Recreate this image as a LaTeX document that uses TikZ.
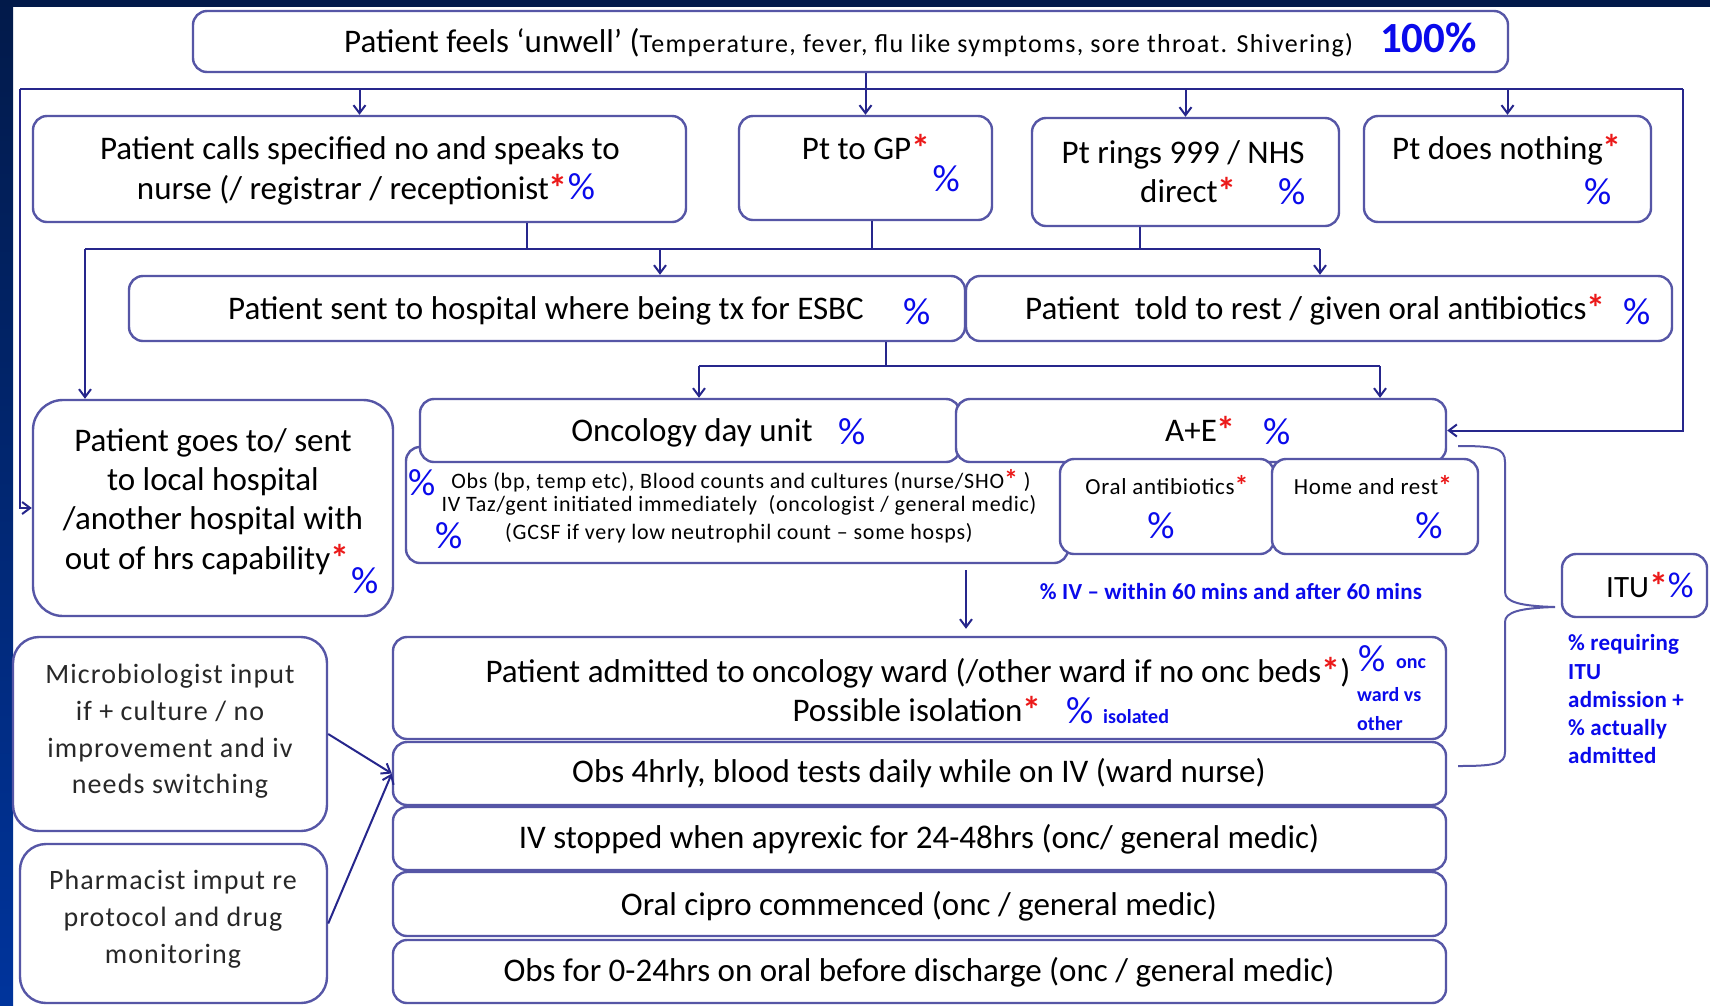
\documentclass[tikz,border=0pt]{standalone}
\usepackage{fontspec}
\setmainfont{Carlito}
\usetikzlibrary{arrows.meta,fit}
\definecolor{boxc}{RGB}{86,86,166}
\definecolor{linec}{RGB}{38,38,140}
\definecolor{pctc}{RGB}{10,10,235}
\definecolor{astc}{RGB}{235,25,25}
\definecolor{navyc}{RGB}{2,26,74}
\definecolor{bandc}{RGB}{0,52,156}
\definecolor{greyc}{RGB}{40,40,40}
\newcommand{\fsz}[2]{\fontsize{#1pt}{#2pt}\selectfont}
\newcommand{\Ast}{{\fsz{38}{38}\bfseries\color{astc}\raisebox{-2pt}{*}}}
\newcommand{\SAst}{{\fsz{28}{28}\bfseries\color{astc}\raisebox{-1pt}{*}}}
\newcommand{\PctL}{{\fsz{38}{40}\color{pctc}\%}}
\begin{document}
\begin{tikzpicture}[x=1pt,y=-1pt,
  box/.style={draw=boxc, line width=2.4pt, rounded corners=14pt, fill=white, inner sep=0pt},
  conn/.style={draw=linec, line width=2pt},
  arr/.style={conn, -{Straight Barb[length=8pt,width=12pt]}},
  txt/.style={anchor=base, inner sep=0pt, font=\fsz{33}{39}, text=black},
  stxt/.style={txt, font=\fsz{22}{25}\addfontfeatures{LetterSpace=3.5}},
  mtxt/.style={txt, font=\fsz{23}{27}\addfontfeatures{LetterSpace=3}},
  btxt/.style={txt, font=\fsz{20}{24}\bfseries, text=pctc},
  bntxt/.style={txt, font=\fsz{23}{26}\bfseries\addfontfeatures{LetterSpace=1}, text=pctc},
  gtxt/.style={txt, font=\fsz{28}{34}\addfontfeatures{LetterSpace=4}, text=greyc}]
\useasboundingbox (0,0) rectangle (1710,1005);
% background
\fill[white] (0,0) rectangle (1710,1005);
\shade[top color=navyc, bottom color=bandc] (0,0) rectangle (13,1005);
\fill[navyc] (0,0) rectangle (1710,7);

% boxes
\node[box, fit={(193,11) (1508,72)}] (top) {};
\node[box, fit={(33,116) (686,222)}] (calls) {};
\node[box, fit={(739,116) (992,220)}] (gp) {};
\node[box, fit={(1032,118) (1339,226)}] (nhs) {};
\node[box, fit={(1364,116) (1651,222)}] (nothing) {};
\node[box, fit={(129,276) (965,341)}] (sent) {};
\node[box, fit={(966,276) (1672,341)}] (rest) {};
\node[box, rounded corners=30pt, fit={(33,400) (393,616)}] (goes) {};
\node[box, fit={(406,447) (1068,563)}] (obs) {};
\node[box, fit={(420,399) (960,462)}] (onc) {};
\node[box, fit={(956,399) (1446,462)}] (ae) {};
\node[box, fit={(1060,459) (1274,554)}] (oral) {};
\node[box, fit={(1272,459) (1478,554)}] (home) {};
\node[box, fit={(1562,554) (1707,617)}] (itu) {};
\node[box, fit={(393,637) (1446,739)}] (ward) {};
\node[box, fit={(393,742) (1446,805)}] (obsf) {};
\node[box, fit={(393,807) (1446,870)}] (ivs) {};
\node[box, fit={(393,872) (1446,936)}] (cipro) {};
\node[box, fit={(393,940) (1446,1003)}] (final) {};
\node[box, rounded corners=26pt, fit={(13,637) (327,831)}] (micro) {};
\node[box, rounded corners=26pt, fit={(20,844) (327,1003)}] (pharm) {};

% texts
\node[txt, anchor=base west] (toptxt) at (344,52) {Patient feels ‘unwell’ ({\fsz{26}{30}\addfontfeatures{LetterSpace=5}Temperature, fever, flu like symptoms, sore throat. Shivering)}\hspace{27pt}{\fsz{43}{46}\bfseries\color{pctc}100\%}};

\node[txt] (calls1) at (360,159) {Patient calls specified no and speaks to};
\node[txt] (calls2) at (366,199) {nurse (/ registrar / receptionist\Ast\PctL};

\node[txt] (gp1) at (866,159) {Pt to GP\Ast};
\node[txt, anchor=base east] (gp2) at (960,191) {\PctL};

\node[txt] (nhs1) at (1183,163) {Pt rings 999 / NHS};
\node[txt, anchor=base west] (nhs2) at (1140,202) {direct\Ast};
\node[txt, anchor=base west] (nhs3) at (1278,204) {\PctL};

\node[txt] (no1) at (1507,159) {Pt does nothing\Ast};
\node[txt, anchor=base west] (no2) at (1584,204) {\PctL};

\node[txt] (sent1) at (546,319) {Patient sent to hospital where being tx for ESBC};
\node[txt, anchor=base west] (sent2) at (903,324) {\PctL};

\node[txt, anchor=base west] (rest1) at (1025,319) {Patient\ \ told to rest / given oral antibiotics\Ast};
\node[txt, anchor=base west] (rest2) at (1623,324) {\PctL};

\node[txt] (onc1) at (692,441) {Oncology day unit};
\node[txt, anchor=base west] (onc2) at (838,444) {\PctL};
\node[txt, anchor=base west] (ae1) at (1165,441) {A+E\Ast};
\node[txt, anchor=base west] (ae2) at (1263,444) {\PctL};

\node[txt] (g1) at (213,451) {Patient goes to/ sent};
\node[txt] (g2) at (213,490) {to local hospital};
\node[txt] (g3) at (213,529) {/another hospital with};
\node[txt] (g4) at (207,569) {out of hrs capability\Ast};
\node[txt, anchor=base west] (g5) at (351,593) {\PctL};

\node[txt, anchor=base west] (o0) at (408,495) {\PctL};
\node[stxt] (o1) at (741,488) {Obs (bp, temp etc), Blood counts and cultures (nurse/SHO\SAst\ )};
\node[stxt] (o2) at (739,511) {IV Taz/gent initiated immediately\ \ (oncologist / general medic)};
\node[txt, anchor=base west] (o3) at (435,548) {\PctL};
\node[stxt] (o4) at (739,539) {(GCSF if very low neutrophil count -- some hosps)};

\node[mtxt] (or1) at (1167,494) {Oral antibiotics\SAst};
\node[txt] (or2) at (1161,538) {\PctL};
\node[mtxt] (hr1) at (1373,494) {Home and rest\SAst};
\node[txt] (hr2) at (1429,538) {\PctL};

\node[bntxt] (ivnote) at (1231,599) {\% IV -- within 60 mins and after 60 mins};

\node[txt, anchor=base west] (itu1) at (1606,597) {\fsz{31}{35}ITU\Ast{\fsz{36}{38}\color{pctc}\%}};
\node[bntxt, anchor=base west] (itn1) at (1568,650) {\% requiring};
\node[bntxt, anchor=base west] (itn2) at (1568,679) {ITU};
\node[bntxt, anchor=base west] (itn3) at (1568,707) {admission +};
\node[bntxt, anchor=base west] (itn4) at (1568,735) {\% actually};
\node[bntxt, anchor=base west] (itn5) at (1568,763) {admitted};

\node[txt] (w1) at (918,682) {Patient admitted to oncology ward (/other ward if no onc beds\Ast)};
\node[txt] (w2) at (917,721) {Possible isolation\Ast};
\node[txt, anchor=base west] (w3) at (1066,723) {\PctL};
\node[btxt, anchor=base west] (w4) at (1103,723) {isolated};
\node[txt, anchor=base west] (w5) at (1358,671) {\PctL};
\node[btxt, anchor=base west] (w6) at (1396,668) {onc};
\node[btxt, anchor=base west] (w7) at (1357,701) {ward vs};
\node[btxt, anchor=base west] (w8) at (1357,730) {other};

\node[txt] (f1) at (919,782) {Obs 4hrly, blood tests daily while on IV (ward nurse)};
\node[txt] (f2) at (919,848) {IV stopped when apyrexic for 24-48hrs (onc/ general medic)};
\node[txt] (f3) at (919,915) {Oral cipro commenced (onc / general medic)};
\node[txt] (f4) at (919,981) {Obs for 0-24hrs on oral before discharge (onc / general medic)};

\node[gtxt] (m1) at (170,683) {Microbiologist input};
\node[gtxt] (m2) at (170,720) {if + culture / no};
\node[gtxt] (m3) at (170,757) {improvement and iv};
\node[gtxt] (m4) at (170,793) {needs switching};
\node[gtxt] (p1) at (173,889) {Pharmacist imput re};
\node[gtxt] (p2) at (173,926) {protocol and drug};
\node[gtxt] (p3) at (173,963) {monitoring};

% connectors
\coordinate (tl) at (20,89);
\coordinate (tr) at (1683,89);
\draw[conn] (tl) -- (tr);
\draw[arr] (tl) |- (goes.west);
\draw[arr] (tr) |- (ae.east);
\draw[arr] (gp.north |- top.south) -- (gp.north);
\draw[arr] (calls.north |- tl) -- (calls.north);
\draw[arr] (nhs.north |- tl) -- (nhs.north);
\draw[arr] (nothing.north |- tl) -- (nothing.north);

\coordinate (j1) at (85,249);
\coordinate (j2) at (1320,249);
\coordinate (c1) at (527,249);
\coordinate (c2) at (872,249);
\coordinate (c3) at (1140,249);
\coordinate (c4) at (660,249);
\draw[conn] (j1) -- (j2);
\draw[conn] (c1 |- calls.south) -- (c1);
\draw[conn] (c2 |- gp.south) -- (c2);
\draw[conn] (c3 |- nhs.south) -- (c3);
\draw[arr] (c4) -- (c4 |- sent.north);
\draw[arr] (j2) -- (j2 |- rest.north);
\draw[arr] (j1) -- (j1 |- goes.north);

\coordinate (k0) at (886,366);
\coordinate (k1) at (699,366);
\coordinate (k2) at (1380,366);
\draw[conn] (k0 |- sent.south) -- (k0);
\draw[conn] (k1) -- (k2);
\draw[arr] (k1) -- (k1 |- onc.north);
\draw[arr] (k2) -- (k2 |- ae.north);

\coordinate (k3) at (966,600);
\draw[arr, shorten <=6pt, shorten >=7pt] (k3 |- obs.south) -- (k3 |- ward.north);

\draw[arr] (micro.east) -- (obsf.west);
\draw[arr] (pharm.east) -- (obsf.west);

% brace to ITU
\coordinate (b1) at (1458,446);
\coordinate (btip) at (1555,607);
\coordinate (b2) at (1458,766);
\draw[draw=boxc, line width=2pt] (b1) .. controls (1495,446) and (1505,448) .. (1505,462) -- (1505,592) .. controls (1505,602) and (1520,606) .. (btip) .. controls (1520,608) and (1505,612) .. (1505,622) -- (1505,752) .. controls (1505,764) and (1495,766) .. (b2);
\end{tikzpicture}
\end{document}
